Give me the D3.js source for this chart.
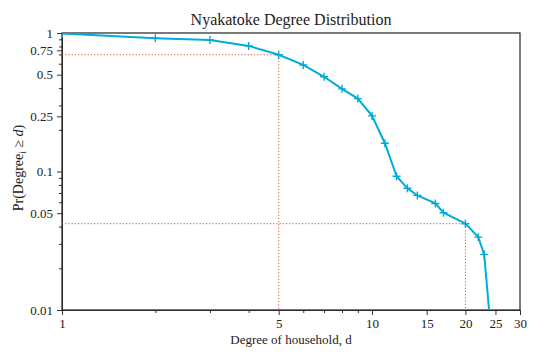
<!DOCTYPE html>
<html lang="en">
<head>
<meta charset="UTF-8">
<title>Nyakatoke Degree Distribution</title>
<style>
  body { margin: 0; background: #fff; }
  text { font-family: "Liberation Serif", "Times New Roman", serif; fill: #222; }
</style>
</head>
<body>
<script src="https://cdn.jsdelivr.net/npm/d3@7/dist/d3.min.js"></script>
<script>
    // degree of household and share of households with at least that degree
    var degrees = [1, 2, 3, 4, 5, 6, 7, 8, 9, 10, 11, 12, 13, 14, 16, 17, 20, 22, 23, 24];
    var probs = [0.992, 0.916, 0.891, 0.807, 0.697, 0.588, 0.483, 0.395, 0.336, 0.252,
        0.160, 0.0924, 0.0756, 0.0672, 0.0588, 0.0504, 0.042, 0.0336, 0.0252, 0.0084];

    // reference points marked with dotted lines
    var refDegrees = [5, 20];
    var refProbs = [0.697, 0.042];

    var xTicks = [1, 5, 10, 15, 20, 25, 30];
    var xMinor = [2, 3, 4, 6, 7, 8, 9];
    var yTicks = [0.01, 0.05, 0.1, 0.25, 0.5, 0.75, 1];
    var yMinor = [0.02, 0.03, 0.04, 0.06, 0.07, 0.08, 0.09, 0.2, 0.3, 0.4, 0.6, 0.7, 0.8, 0.9];

    var W = 540, H = 360;
    var m = { left: 62, right: 20, top: 33, bottom: 50 };

    var svg = d3.select('body').append('svg').attr('width', W).attr('height', H);

    var x = d3.scaleLog().domain([1, 30]).range([m.left, W - m.right]);
    var y = d3.scaleLog().domain([0.01, 1]).range([H - m.bottom, m.top]);

    svg.append('defs').append('clipPath').attr('id', 'plot')
        .append('rect')
        .attr('x', m.left).attr('y', m.top)
        .attr('width', W - m.left - m.right).attr('height', H - m.top - m.bottom);

    var fmt = function (d) { return String(d); };

    // minor ticks
    svg.append('g').attr('transform', 'translate(0,' + (H - m.bottom) + ')')
        .call(d3.axisBottom(x).tickValues(xMinor).tickSize(3).tickFormat(''))
        .call(function (g) { g.select('.domain').remove(); });
    svg.append('g').attr('transform', 'translate(' + m.left + ',0)')
        .call(d3.axisLeft(y).tickValues(yMinor).tickSize(3).tickFormat(''))
        .call(function (g) { g.select('.domain').remove(); });

    // major axes
    svg.append('g').attr('transform', 'translate(0,' + (H - m.bottom) + ')')
        .call(d3.axisBottom(x).tickValues(xTicks).tickSize(5).tickPadding(4).tickFormat(fmt));
    svg.append('g').attr('transform', 'translate(' + m.left + ',0)')
        .call(d3.axisLeft(y).tickValues(yTicks).tickSize(5).tickPadding(4).tickFormat(fmt));

    svg.selectAll('.tick line').attr('stroke', '#333');
    svg.selectAll('.domain').attr('stroke', '#333');
    svg.selectAll('.tick text').style('font-family', '"Liberation Serif", serif')
        .style('font-size', '13px').attr('fill', '#222');

    // frame
    svg.append('rect')
        .attr('x', m.left).attr('y', m.top)
        .attr('width', W - m.left - m.right).attr('height', H - m.top - m.bottom)
        .attr('fill', 'none').attr('stroke', '#222').attr('stroke-width', 1.2);

    // dotted reference lines
    var refs = svg.append('g').attr('stroke', '#e8483f').attr('stroke-width', 1)
        .attr('stroke-dasharray', '1.2,2').attr('fill', 'none');
    refDegrees.forEach(function (d, i) {
        refs.append('line')
            .attr('x1', x(1)).attr('x2', x(d))
            .attr('y1', y(refProbs[i])).attr('y2', y(refProbs[i]));
        refs.append('line')
            .attr('x1', x(d)).attr('x2', x(d))
            .attr('y1', y(refProbs[i])).attr('y2', y(0.01));
    });

    var pts = degrees.map(function (d, i) { return [d, probs[i]]; });

    var plot = svg.append('g').attr('clip-path', 'url(#plot)');
    plot.append('path')
        .datum(pts)
        .attr('fill', 'none')
        .attr('stroke', '#00acd8')
        .attr('stroke-width', 2)
        .attr('d', d3.line().x(function (p) { return x(p[0]); }).y(function (p) { return y(p[1]); }));

    // plus markers
    var s = 4;
    plot.selectAll('path.mk').data(pts).enter().append('path')
        .attr('class', 'mk')
        .attr('fill', 'none').attr('stroke', '#00acd8').attr('stroke-width', 1.4)
        .attr('d', function (p) {
            var cx = x(p[0]), cy = y(p[1]);
            return 'M' + (cx - s) + ',' + cy + 'H' + (cx + s) + 'M' + cx + ',' + (cy - s) + 'V' + (cy + s);
        });

    // texts
    svg.append('text')
        .attr('x', (m.left + W - m.right) / 2).attr('y', 25)
        .attr('text-anchor', 'middle').style('font-size', '16px')
        .text('Nyakatoke Degree Distribution');

    svg.append('text')
        .attr('x', (m.left + W - m.right) / 2).attr('y', 344)
        .attr('text-anchor', 'middle').style('font-size', '13px')
        .text('Degree of household, d');

    var yl = svg.append('text')
        .attr('transform', 'translate(23,168) rotate(-90)')
        .attr('text-anchor', 'middle').style('font-size', '14px');
    yl.append('tspan').text('Pr(Degree');
    yl.append('tspan').attr('dy', 3).style('font-size', '9.5px').text('i');
    yl.append('tspan').attr('dy', -3).text(' \u2265 ');
    yl.append('tspan').style('font-style', 'italic').text('d');
    yl.append('tspan').text(')');
</script>
</body>
</html>
